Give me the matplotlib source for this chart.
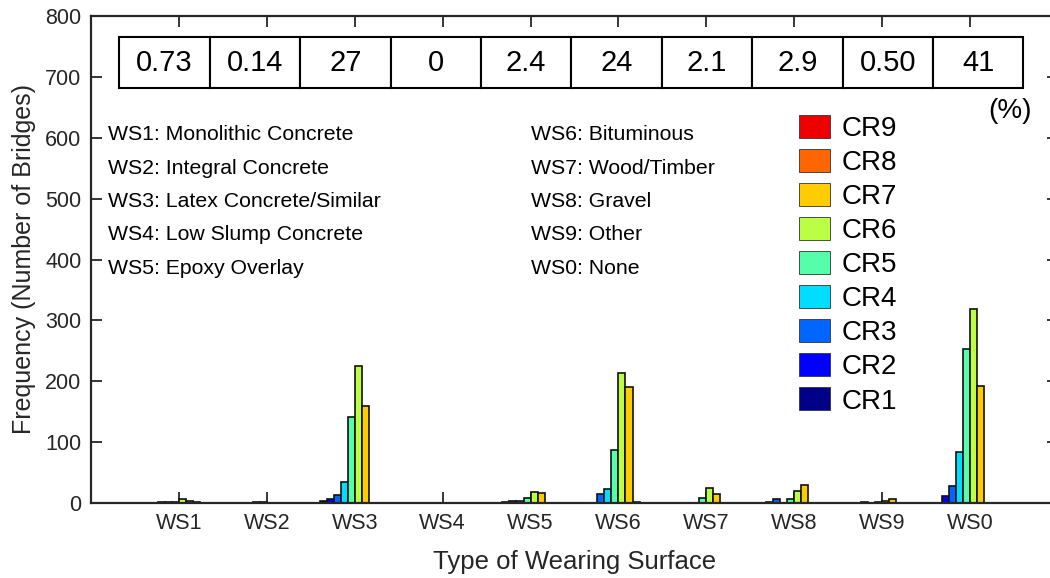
import matplotlib
matplotlib.use("Agg")
import matplotlib.pyplot as plt
from matplotlib.patches import Rectangle, Patch
import numpy as np

plt.rcParams['font.family'] = ['Liberation Sans', 'DejaVu Sans']

surfaces = ["WS1", "WS2", "WS3", "WS4", "WS5", "WS6", "WS7", "WS8", "WS9", "WS0"]
ratings = ["CR1", "CR2", "CR3", "CR4", "CR5", "CR6", "CR7", "CR8", "CR9"]
# counts[rating][surface]
CR1 = [0, 0, 4, 0, 0, 0, 0, 0, 0, 0]
CR2 = [0, 0, 6, 0, 1, 0, 0, 1, 0, 12]
CR3 = [1, 0, 13, 0, 3, 15, 0, 7, 1, 28]
CR4 = [2, 2, 35, 0, 4, 23, 0, 0, 0, 84]
CR5 = [2, 1, 141, 0, 9, 87, 8, 6, 1, 253]
CR6 = [6, 0, 225, 0, 18, 214, 24, 19, 3, 318]
CR7 = [4, 0, 160, 0, 17, 191, 14, 30, 6, 193]
CR8 = [1, 0, 0, 0, 0, 1, 0, 0, 0, 0]
CR9 = [0, 0, 0, 0, 0, 0, 0, 0, 0, 0]
series = [CR1, CR2, CR3, CR4, CR5, CR6, CR7, CR8, CR9]
colors = ["#000088", "#0000FF", "#0066FF", "#00DDFF", "#55FFAA",
          "#BBFF44", "#FFCC00", "#FF6600", "#EE0000"]
percent_labels = ["0.73", "0.14", "27", "0", "2.4", "24", "2.1", "2.9", "0.50", "41"]
notes_left = ["WS1: Monolithic Concrete", "WS2: Integral Concrete",
              "WS3: Latex Concrete/Similar", "WS4: Low Slump Concrete",
              "WS5: Epoxy Overlay"]
notes_right = ["WS6: Bituminous", "WS7: Wood/Timber", "WS8: Gravel",
               "WS9: Other", "WS0: None"]

fig = plt.figure(figsize=(10.5, 5.78), dpi=100)
ax = fig.add_axes([91 / 1050, 75 / 578, 967 / 1050, 487 / 578])

gray = "#262626"
x = np.arange(1, len(surfaces) + 1)
slot = 0.08
for j, (vals, c) in enumerate(zip(series, colors)):
    ax.bar(x + (j - 4.5) * slot, vals, width=slot, color=c,
           edgecolor="#111111", linewidth=1.2, align="center", zorder=2)

ax.set_xlim(0, 11)
ax.set_ylim(0, 800)
ax.set_xticks(x)
ax.set_xticklabels(surfaces)
ax.set_yticks(np.arange(0, 801, 100))
ax.tick_params(axis="both", direction="in", length=8, width=1.3,
               labelsize=15.5, colors=gray, top=True, right=True, pad=7)
for s in ax.spines.values():
    s.set_linewidth(1.6)
    s.set_color(gray)
ax.set_xlabel("Type of Wearing Surface", fontsize=18.5, color=gray, labelpad=12)
ax.set_ylabel("Frequency (Number of Bridges)", fontsize=18, color=gray, labelpad=6.5)

# percentage table
x0, y0, cw, ch = 0.02927, 0.8515, 0.09349, 0.106
for i, lab in enumerate(percent_labels):
    ax.add_patch(Rectangle((x0 + i * cw, y0), cw, ch, transform=ax.transAxes,
                           facecolor="white", edgecolor="black", linewidth=1.5,
                           zorder=3, clip_on=False))
    ax.text(x0 + (i + 0.5) * cw, y0 + ch / 2, lab, transform=ax.transAxes,
            ha="center", va="center", fontsize=21, color="black", zorder=4)
ax.text(0.950, 0.805, "(%)", transform=ax.transAxes, ha="center", va="center",
        fontsize=20, color="black")

row_y = [0.757, 0.687, 0.619, 0.551, 0.481]
for yy, tl, tr in zip(row_y, notes_left, notes_right):
    ax.text(0.0176, yy, tl, transform=ax.transAxes, ha="left", va="center",
            fontsize=15.3, color="black")
    ax.text(0.455, yy, tr, transform=ax.transAxes, ha="left", va="center",
            fontsize=15.3, color="black")

handles = [Patch(facecolor=colors[k], edgecolor="#333333", linewidth=0.6)
           for k in range(len(ratings) - 1, -1, -1)]
labels = [ratings[k] for k in range(len(ratings) - 1, -1, -1)]
leg = ax.legend(handles, labels, loc="upper left",
                bbox_to_anchor=((799 - 91) / 967, (503 - 115) / 487),
                frameon=False, fontsize=20, handlelength=1.12, handleheight=0.9,
                handletextpad=0.4, labelspacing=0.25, borderpad=0, borderaxespad=0)

fig.savefig("out.png", dpi=100)
